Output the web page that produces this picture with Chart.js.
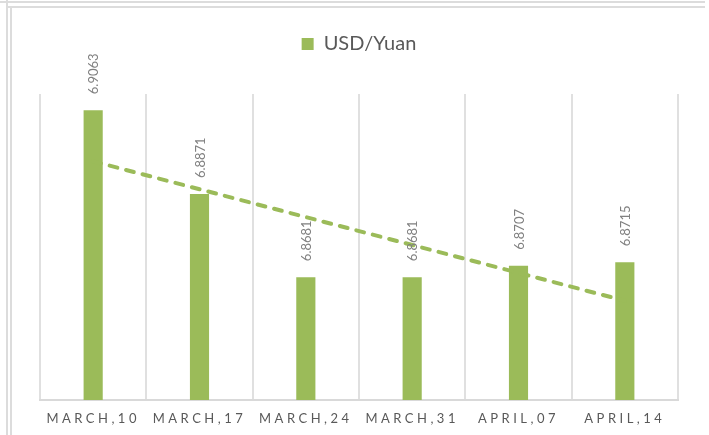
<!DOCTYPE html>
<html>
<head>
<meta charset="utf-8">
<script src="https://cdn.jsdelivr.net/npm/chart.js@4"></script>
<style>
  html, body { margin: 0; padding: 0; background: #fff; }
  #wrap { position: relative; width: 709px; height: 435px; overflow: hidden; }
  #wrap canvas { position: absolute; left: 0; top: 0; }
  .frame { position: absolute; background: #dcdcdc; }
</style>
</head>
<body>
<div id="wrap">
  <canvas id="rateChart" width="709" height="435"></canvas>
  <div class="frame" style="left:0;top:1px;width:705px;height:2px"></div>
  <div class="frame" style="left:6px;top:0;width:2px;height:435px"></div>
  <div class="frame" style="left:6px;top:6px;width:699px;height:2px"></div>
  <div class="frame" style="left:10px;top:8px;width:2px;height:427px"></div>
</div>
<script>
// weekly USD/Yuan rates
const weeks = ['MARCH,10', 'MARCH,17', 'MARCH,24', 'MARCH,31', 'APRIL,07', 'APRIL,14'];
const rates = [6.9063, 6.8871, 6.8681, 6.8681, 6.8707, 6.8715];
// linear trendline, only its two ends
const trend = [6.8946, null, null, null, null, 6.8627];
const yMin = 6.84;
const yMax = 6.91;

const green = '#9bbb59';

// rotated value labels over the bars, then letter spacing for the x labels
const barLabels = {
  id: 'barLabels',
  afterDatasetsDraw(chart) {
    const ctx = chart.ctx;
    const meta = chart.getDatasetMeta(0);
    ctx.save();
    ctx.font = '13px Lato';
    ctx.fillStyle = '#808080';
    ctx.textAlign = 'left';
    ctx.textBaseline = 'middle';
    meta.data.forEach((bar, i) => {
      ctx.save();
      ctx.translate(bar.x + 1, bar.y - 16);
      ctx.rotate(-Math.PI / 2);
      ctx.fillText(rates[i].toFixed(4), 0, 0);
      ctx.restore();
    });
    ctx.restore();
    ctx.letterSpacing = '3.5px';
  },
  afterDraw(chart) {
    chart.ctx.letterSpacing = '0px';
  }
};

new Chart(document.getElementById('rateChart'), {
  data: {
    labels: weeks,
    datasets: [{
      type: 'bar',
      label: 'USD/Yuan',
      data: rates,
      backgroundColor: green,
      borderWidth: 0,
      barPercentage: 0.18,
      categoryPercentage: 1,
      order: 2
    }, {
      type: 'line',
      label: 'Trend',
      data: trend,
      spanGaps: true,
      borderColor: green,
      borderWidth: 4,
      borderDash: [8, 9],
      borderCapStyle: 'round',
      pointRadius: 0,
      fill: false,
      order: 1
    }]
  },
  options: {
    responsive: false,
    animation: false,
    layout: { padding: { left: 40, right: 31, top: 24, bottom: 0 } },
    plugins: {
      tooltip: { enabled: false },
      legend: {
        position: 'top',
        labels: {
          boxWidth: 12,
          boxHeight: 12,
          padding: 10,
          color: '#595959',
          font: { family: 'Lato', size: 20 },
          filter: item => item.datasetIndex === 0
        }
      }
    },
    scales: {
      x: {
        grid: { color: '#e0e0e0', lineWidth: 2, drawTicks: false, offset: true },
        border: { color: '#d9d9d9', width: 2 },
        ticks: {
          color: '#595959',
          font: { family: 'Lato', size: 13 },
          padding: 11,
          maxRotation: 0,
          autoSkip: false,
          z: 1
        },
        afterFit: s => { s.height = 35; }
      },
      x2: {
        position: 'top',
        grid: { display: false },
        border: { display: false },
        ticks: { display: false },
        afterFit: s => { s.height = 30; }
      },
      y: {
        display: false,
        min: yMin,
        max: yMax
      }
    }
  },
  plugins: [barLabels]
});
</script>
</body>
</html>
